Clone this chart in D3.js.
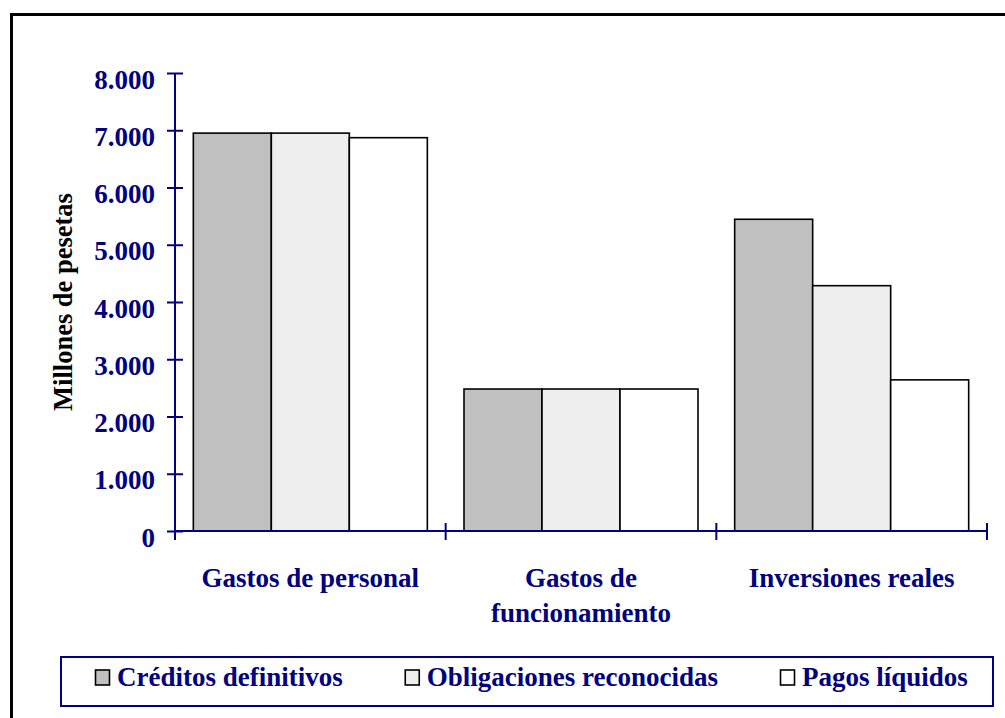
<!DOCTYPE html>
<html>
<head>
<meta charset="utf-8">
<script src="https://cdn.jsdelivr.net/npm/d3@7"></script>
<style>
  html, body { margin: 0; padding: 0; background: #fff; }
  svg { display: block; }
  text { font-family: "Liberation Serif", "Times New Roman", serif; font-weight: bold; }
</style>
</head>
<body>
<svg id="chart" width="1005" height="718"></svg>
<script>
// ---- data ----
const categories = [["Gastos de personal"], ["Gastos de", "funcionamiento"], ["Inversiones reales"]];
const seriesNames = ["Créditos definitivos", "Obligaciones reconocidas", "Pagos líquidos"];
const creditosDefinitivos = [6950, 2480, 5445];
const obligacionesReconocidas = [6950, 2480, 4285];
const pagosLiquidos = [6870, 2480, 2640];
const yTicks = [0, 1000, 2000, 3000, 4000, 5000, 6000, 7000, 8000];
const yTickLabels = ["0", "1.000", "2.000", "3.000", "4.000", "5.000", "6.000", "7.000", "8.000"];
const seriesColors = ["#c0c0c0", "#eeeeee", "#ffffff"];

const seriesValues = [creditosDefinitivos, obligacionesReconocidas, pagosLiquidos];
const navy = "#000080";
const svg = d3.select("#chart");

// outer frame (open on right/bottom, continues past the picture)
svg.append("rect").attr("x", 11.5).attr("y", 14.5).attr("width", 1200).attr("height", 1000)
  .attr("fill", "none").attr("stroke", "#000").attr("stroke-width", 3);

const plot = { left: 175, right: 987, top: 73, bottom: 531 };
const catKeys = categories.map((c, i) => i);
const x0 = d3.scaleBand().domain(catKeys).range([plot.left, plot.right]).padding(0);
const x1 = d3.scaleBand().domain(d3.range(seriesNames.length)).range([0, x0.bandwidth()])
  .paddingInner(0).paddingOuter(0.235);
const y = d3.scaleLinear().domain([0, 8000]).range([plot.bottom, plot.top]);

// bars
const groups = svg.append("g").selectAll("g").data(catKeys).join("g")
  .attr("transform", d => `translate(${x0(d)},0)`);
groups.selectAll("rect").data(ci => seriesValues.map((s, si) => ({ si, v: s[ci] })))
  .join("rect")
  .attr("x", d => x1(d.si))
  .attr("y", d => y(d.v))
  .attr("width", x1.bandwidth())
  .attr("height", d => y(0) - y(d.v))
  .attr("fill", d => seriesColors[d.si])
  .attr("stroke", "#000").attr("stroke-width", 1.6);

// y axis
const yAxis = d3.axisLeft(y).tickValues(yTicks).tickFormat((d, i) => yTickLabels[i])
  .tickSize(0).tickPadding(20);
const gy = svg.append("g").attr("transform", `translate(${plot.left},0)`).call(yAxis);
gy.select(".domain").remove();
gy.selectAll(".tick text").attr("fill", navy).attr("font-size", 27)
  .attr("font-family", "Liberation Serif").attr("font-weight", "bold").attr("dy", "15");
gy.selectAll(".tick").append("line").attr("x1", -8).attr("x2", 8)
  .attr("stroke", navy).attr("stroke-width", 2);
gy.append("line").attr("x1", 0).attr("x2", 0).attr("y1", plot.top).attr("y2", plot.bottom + 9)
  .attr("stroke", navy).attr("stroke-width", 2);

// x axis
const gx = svg.append("g").attr("transform", `translate(0,${plot.bottom})`);
gx.append("line").attr("x1", plot.left).attr("x2", plot.right).attr("stroke", navy).attr("stroke-width", 2);
const bounds = catKeys.map(k => x0(k)).concat([x0(catKeys[catKeys.length - 1]) + x0.bandwidth()]);
gx.selectAll("line.tk").data(bounds.slice(1)).join("line").attr("class", "tk")
  .attr("x1", d => d).attr("x2", d => d).attr("y1", -8).attr("y2", 9)
  .attr("stroke", navy).attr("stroke-width", 2);
gx.selectAll("text.cat").data(catKeys).join("text").attr("class", "cat")
  .attr("text-anchor", "middle").attr("fill", navy).attr("font-size", 27)
  .attr("x", d => x0(d) + x0.bandwidth() / 2)
  .each(function (d) {
    const t = d3.select(this);
    categories[d].forEach((line, li) => {
      t.append("tspan").attr("x", x0(d) + x0.bandwidth() / 2).attr("y", 56 + li * 35).text(line);
    });
  });

// y title
svg.append("text").attr("transform", `translate(72,${(plot.top + plot.bottom) / 2}) rotate(-90)`)
  .attr("text-anchor", "middle").attr("fill", "#000").attr("font-size", 26.5)
  .text("Millones de pesetas");

// legend
const leg = svg.append("g");
leg.append("rect").attr("x", 61).attr("y", 657).attr("width", 932).attr("height", 49)
  .attr("fill", "#fff").attr("stroke", navy).attr("stroke-width", 2);
let lx = 95;
seriesNames.forEach((name, i) => {
  leg.append("rect").attr("x", lx + 0.5).attr("y", 670).attr("width", 14).attr("height", 15)
    .attr("fill", seriesColors[i]).attr("stroke", "#000").attr("stroke-width", 1.6);
  const t = leg.append("text").attr("x", lx + 22).attr("y", 686).attr("fill", navy)
    .attr("font-size", 27).text(name);
  lx += 22 + t.node().getComputedTextLength() + 62;
});
</script>
</body>
</html>
